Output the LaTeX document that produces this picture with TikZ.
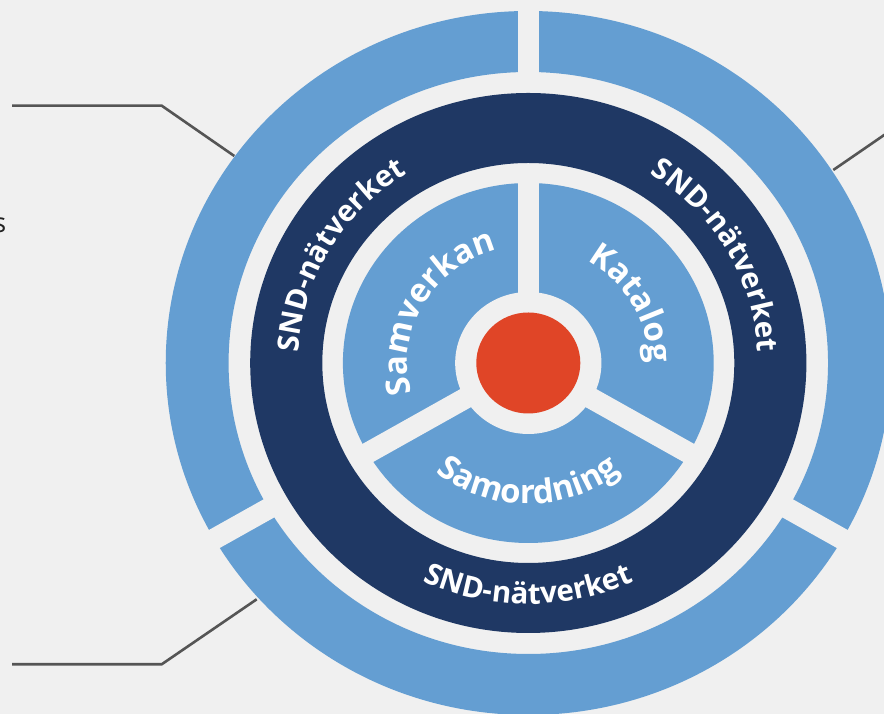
\documentclass[tikz,border=0pt]{standalone}
\usepackage{fontspec}
\setmainfont{Open Sans}
\usetikzlibrary{decorations.text}
\definecolor{bgc}{HTML}{F0F0F0}
\definecolor{lblue}{HTML}{649ED2}
\definecolor{navy}{HTML}{1F3864}
\definecolor{redc}{HTML}{E04527}
\definecolor{leadc}{HTML}{555555}
\definecolor{txtc}{HTML}{222222}
\newcommand\sndfont{\color{white}\bfseries\fontsize{29.5}{32}\selectfont}
\newcommand\innfont{\color{white}\bfseries\fontsize{33}{36}\selectfont}
\tikzset{
  leader/.style={draw=leadc, line width=2.6pt},
  gapline/.style={draw=bgc, line width=21pt},
  ringtext/.style={decorate, decoration={text along path, text align=center, text={|\sndfont|#1}}},
  inntext/.style={decorate, decoration={text along path, text align=center, text={|\innfont|#1}}}
}
\begin{document}
\begin{tikzpicture}[x=1pt,y=1pt]
\useasboundingbox (0,0) rectangle (884,714);
\fill[bgc] (0,0) rectangle (884,714);
\begin{scope}[shift={(528.3,351)}, xscale=1.03]
  % outer ring
  \fill[lblue, even odd rule] (0,0) circle (352) (0,0) circle (291);
  \foreach \a in {90,210,330} \draw[gapline] (\a:284) -- (\a:362);
  % dark ring
  \fill[navy, even odd rule] (0,0) circle (270) (0,0) circle (200);
  % inner disk
  \fill[lblue] (0,0) circle (180);
  \foreach \a in {90,210,330} \draw[gapline] (0,0) -- (\a:186);
  \fill[bgc] (0,0) circle (71);
  \fill[redc] (0,0) circle (50.5);
  \coordinate (core) at (0,0);
  % ring texts
  \path[ringtext={SND-nätverket}] (210:223) arc[start angle=210, end angle=90, radius=223];
  \path[ringtext={SND-nätverket}] (90:223) arc[start angle=90, end angle=-30, radius=223];
  \path[ringtext={SND-nätverket}] (210:241) arc[start angle=210, end angle=330, radius=241];
  % inner texts
  \path[inntext={Samverkan}] (210:117) arc[start angle=210, end angle=90, radius=117];
  \path[inntext={Katalog}] (90:117) arc[start angle=90, end angle=-30, radius=117];
  \path[inntext={Samordning}] (210:141) arc[start angle=210, end angle=330, radius=141];
\end{scope}
% leader lines
\coordinate (l1a) at (12,608.3);
\coordinate (l1b) at (161.7,608.3);
\coordinate (l1c) at (234.3,558);
\coordinate (l2a) at (12,49.7);
\coordinate (l2b) at (161.7,49.7);
\coordinate (l2c) at (256.7,114.7);
\coordinate (l3a) at (833.3,544);
\coordinate (l3b) at (890,583);
\draw[leader] (l1a) -- (l1b) -- (l1c);
\draw[leader] (l2a) -- (l2b) -- (l2c);
\draw[leader] (l3a) -- (l3b);
\node[anchor=base east, inner sep=0, text=txtc, font=\fontsize{27}{30}\selectfont] (cut) at (6.5,481) {s};
\end{tikzpicture}
\end{document}
